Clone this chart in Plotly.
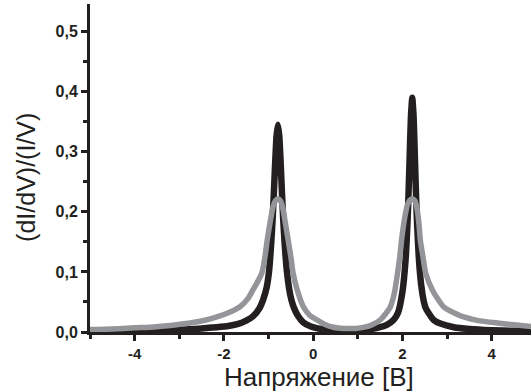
import plotly.graph_objects as go

# Black curve (narrow peaks)
black_x = [-5.0, -4.0, -3.0, -2.5, -2.16, -1.9, -1.7, -1.5, -1.35, -1.2, -1.12, -1.04, -0.99, -0.94,
           -0.91, -0.88, -0.85, -0.82, -0.79, -0.76, -0.73, -0.70, -0.67, -0.64, -0.59, -0.54,
           -0.49, -0.44, -0.35, -0.22, -0.05, 0.1, 0.3, 0.6, 1.0, 1.3, 1.5, 1.65, 1.8, 1.9, 2.0,
           2.07, 2.11, 2.13, 2.16, 2.19, 2.22, 2.25, 2.28, 2.31, 2.33, 2.37, 2.42, 2.47, 2.52,
           2.6, 2.7, 2.85, 3.15, 3.5, 4.0, 4.5, 4.9]
black_y = [0.002, 0.003, 0.004, 0.006, 0.008, 0.010, 0.013, 0.019, 0.026, 0.040, 0.054, 0.075,
           0.100, 0.148, 0.186, 0.233, 0.284, 0.327, 0.345, 0.327, 0.284, 0.233, 0.186, 0.148,
           0.102, 0.073, 0.054, 0.042, 0.028, 0.016, 0.009, 0.006, 0.004, 0.003, 0.003, 0.005,
           0.008, 0.012, 0.020, 0.032, 0.067, 0.120, 0.177, 0.215, 0.287, 0.358, 0.390, 0.358,
           0.287, 0.215, 0.177, 0.120, 0.078, 0.054, 0.040, 0.030, 0.020, 0.014, 0.008, 0.005,
           0.003, 0.002, 0.002]

# Grey curve (broad peaks)
grey_x = [-5.0, -4.5, -4.0, -3.66, -3.2, -2.76, -2.4, -2.16, -1.9, -1.64, -1.45, -1.35, -1.25,
          -1.15, -1.08, -1.03, -0.96, -0.90, -0.85, -0.79, -0.73, -0.68, -0.62, -0.56, -0.50,
          -0.45, -0.35, -0.22, -0.08, 0.09, 0.25, 0.45, 0.7, 0.95, 1.15, 1.32, 1.5, 1.62, 1.73,
          1.82, 1.89, 1.94, 1.98, 2.05, 2.11, 2.16, 2.22, 2.28, 2.33, 2.37, 2.40, 2.46, 2.52,
          2.67, 2.8, 2.92, 3.15, 3.37, 3.7, 4.13, 4.5, 4.9]
grey_y = [0.004, 0.005, 0.007, 0.008, 0.011, 0.015, 0.020, 0.025, 0.032, 0.042, 0.057, 0.070,
          0.083, 0.098, 0.125, 0.153, 0.185, 0.208, 0.218, 0.222, 0.218, 0.206, 0.180, 0.153,
          0.125, 0.098, 0.068, 0.042, 0.028, 0.020, 0.013, 0.008, 0.006, 0.006, 0.008, 0.012,
          0.020, 0.030, 0.042, 0.065, 0.098, 0.125, 0.153, 0.190, 0.211, 0.219, 0.222, 0.218,
          0.204, 0.180, 0.153, 0.125, 0.098, 0.070, 0.054, 0.042, 0.032, 0.025, 0.019, 0.015,
          0.012, 0.009]

x_tickvals = [-4, -2, 0, 2, 4]
x_ticktext = ["-4", "-2", "0", "2", "4"]
y_tickvals = [0.0, 0.1, 0.2, 0.3, 0.4, 0.5]
x_title = "Напряжение [В]"
y_title = "(dI/dV)/(I/V)"

INK = "#231f20"
GREY = "#939598"
FONT = "Liberation Sans, Arial, sans-serif"

fig = go.Figure()
fig.add_trace(go.Scatter(x=black_x, y=black_y, mode="lines",
                         line=dict(color=INK, width=6.5, shape="spline", smoothing=0.5),
                         showlegend=False, hoverinfo="skip"))
fig.add_trace(go.Scatter(x=grey_x, y=grey_y, mode="lines",
                         line=dict(color=GREY, width=5.5, shape="spline", smoothing=0.5),
                         showlegend=False, hoverinfo="skip"))

fig.update_layout(
    width=531, height=392,
    margin=dict(l=90, r=0, t=4, b=60),
    paper_bgcolor="white", plot_bgcolor="white",
    separators=", ",
    font=dict(family=FONT, color=INK),
    xaxis=dict(
        range=[-5.0, 4.88],
        tickvals=x_tickvals, ticktext=x_ticktext,
        ticks="outside", ticklen=6, tickwidth=2.5, tickcolor=INK,
        minor=dict(dtick=1, tick0=0, ticks="outside", ticklen=4, tickwidth=2.5, tickcolor=INK),
        showline=True, linecolor=INK, linewidth=3,
        showgrid=False, zeroline=False,
        tickfont=dict(family=FONT, size=15, color=INK, weight="bold"),
    ),
    yaxis=dict(
        range=[0.0, 0.546],
        tickvals=y_tickvals, tickformat=".1f",
        ticks="outside", ticklen=6, tickwidth=2.5, tickcolor=INK,
        minor=dict(dtick=0.05, tick0=0, ticks="outside", ticklen=4, tickwidth=2.5, tickcolor=INK),
        showline=True, linecolor=INK, linewidth=3,
        showgrid=False, zeroline=False,
        tickfont=dict(family=FONT, size=16, color=INK, weight="bold"),
    ),
    annotations=[
        dict(text=x_title, xref="paper", yref="paper", x=0.52, y=-0.136,
             xanchor="center", yanchor="middle", showarrow=False,
             font=dict(family=FONT, size=26, color=INK)),
        dict(text=y_title, xref="paper", yref="paper", x=-0.145, y=0.47,
             xanchor="center", yanchor="middle", showarrow=False, textangle=-90,
             font=dict(family=FONT, size=25, color=INK)),
    ],
)

fig.write_html("out.html")
